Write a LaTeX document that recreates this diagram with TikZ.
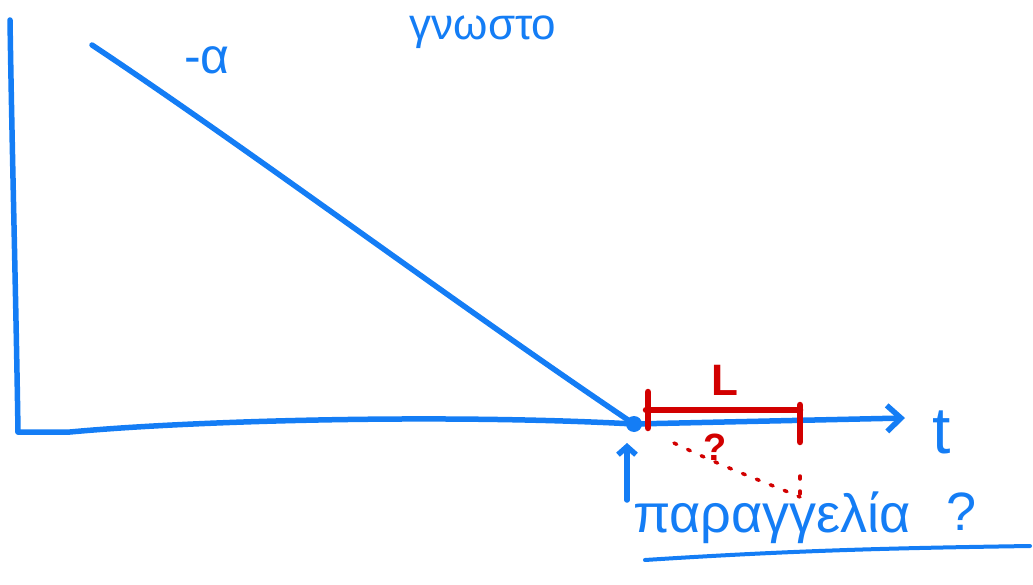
\documentclass[tikz,border=0pt]{standalone}
\usepackage{fontspec}
\setmainfont{Liberation Sans}
\usetikzlibrary{arrows.meta}
\definecolor{pen}{RGB}{20,125,245}
\definecolor{redpen}{RGB}{210,0,0}
\tikzset{
  bluestroke/.style={draw=pen, line width=5.5pt, line cap=round, line join=round},
  redstroke/.style={draw=redpen, line width=6.5pt, line cap=round, line join=round},
  bluetext/.style={text=pen, font=\fontsize{50}{54}\selectfont},
  redtext/.style={text=redpen, font=\bfseries\fontsize{44}{48}\selectfont},
  reddots/.style={draw=redpen, line width=3.5pt, line cap=round, dash pattern=on 3pt off 12pt},
}
\begin{document}
\begin{tikzpicture}[x=1pt,y=-1pt]
\useasboundingbox (0,0) rectangle (1033,585);
% axes
\coordinate (top) at (10,20);
\coordinate (origin) at (18,432);
\coordinate (tend) at (905,418);
\coordinate (start) at (92,45);
\node[circle, fill=pen, inner sep=0pt, minimum size=16pt] (dot) at (634,424) {};
\draw[bluestroke] (top) .. controls (12,150) and (16,300) .. (origin);
\draw[bluestroke, -{Straight Barb[length=14pt,width=26pt]}] (origin) -- (70,432) .. controls (200,420) and (450,414) .. (dot.center) -- (tend);
\draw[bluestroke] (start) .. controls (250,150) and (450,300) .. (dot.center);
% labels
\node[bluetext, font=\fontsize{44}{48}\selectfont] (known) at (483,32) {γνωστο};
\node[bluetext] (alpha) at (207,60) {-α};
\node[bluetext, font=\fontsize{66}{70}\selectfont] (t) at (942,432) {t};
% red interval
\coordinate (lt1) at (648,392);
\coordinate (lt2) at (648,428);
\coordinate (rt1) at (800,405);
\coordinate (rt2) at (800,442);
\draw[redstroke] (646,410) -- (800,410);
\draw[redstroke] (lt1) -- (lt2);
\draw[redstroke] (rt1) -- (rt2);
\node[redtext] (L) at (725,380) {L};
\node[redtext, font=\bfseries\fontsize{38}{42}\selectfont] (q1) at (715,447) {?};
% dotted
\coordinate (d1) at (674,443);
\coordinate (d2) at (800,497);
\coordinate (d3) at (800,476);
\draw[reddots] (d1) .. controls (730,470) and (760,480) .. (d2);
\draw[reddots] (d3) -- (d2);
% order arrow
\coordinate (ua) at (627,500);
\coordinate (ub) at (627,443);
\draw[bluestroke, -{Straight Barb[length=8pt,width=18pt]}] (ua) -- (ub);
% bottom label
\node[bluetext, font=\fontsize{54}{58}\selectfont] (order) at (772,518) {παραγγελία};
\node[bluetext, font=\fontsize{54}{58}\selectfont] (q2) at (962,512) {?};
\coordinate (u1) at (645,560);
\coordinate (u2) at (1030,546);
\draw[bluestroke, line width=4pt] (u1) .. controls (800,550) and (900,548) .. (u2);
\end{tikzpicture}
\end{document}
